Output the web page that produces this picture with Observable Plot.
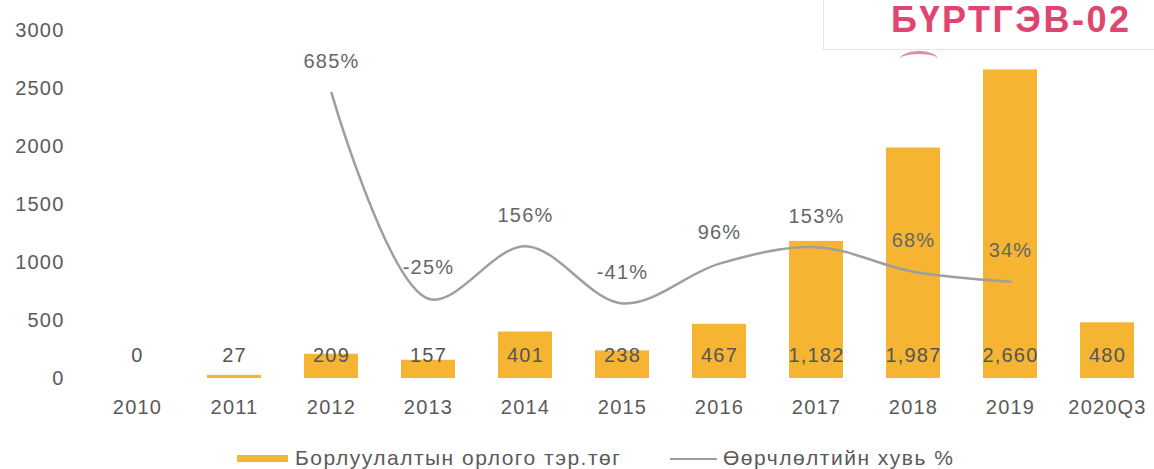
<!DOCTYPE html>
<html>
<head>
<meta charset="utf-8">
<script src="https://cdn.jsdelivr.net/npm/d3@7"></script>
<script src="https://cdn.jsdelivr.net/npm/@observablehq/plot@0.6"></script>
<style>
  body { margin: 0; background: #fff; font-family: "Liberation Sans", Arial, sans-serif; }
  #wrap { position: relative; width: 1154px; height: 469px; overflow: hidden; }
  #stamp { position: absolute; left: 823px; top: -2px; width: 340px; height: 52px; border: 1px solid #e6e6e6; box-sizing: border-box; }
  #stamp span { position: absolute; left: 67px; top: 3px; line-height: 36px; font-weight: bold; font-size: 36px; letter-spacing: 2.5px; color: #e0456f; }
  #arc { position: absolute; left: 900px; top: 51px; width: 38px; height: 14px; border-top: 3px solid #e68aa4; border-radius: 50%; }
  #legend { position: absolute; top: 446px; left: 0; width: 1154px; height: 23px; font-size: 21px; color: #5a5a5a; letter-spacing: 1.5px; }
  .sw1 { position: absolute; left: 237px; top: 9px; width: 51px; height: 7px; background: #f6b433; }
  .lb1 { position: absolute; left: 295px; top: 0px; }
  .sw2 { position: absolute; left: 670px; top: 12px; width: 47px; height: 2px; background: #9c9c9c; }
  .lb2 { position: absolute; left: 723px; top: 0px; }
</style>
</head>
<body>
<div id="wrap">
  <div id="chart"></div>
  <div id="stamp"><span>БҮРТГЭВ-02</span></div>
  <div id="arc"></div>
  <div id="legend">
    <div class="sw1"></div><div class="lb1">Борлуулалтын орлого тэр.төг</div>
    <div class="sw2"></div><div class="lb2">Өөрчлөлтийн хувь %</div>
  </div>
</div>
<script>
const categories = ["2010","2011","2012","2013","2014","2015","2016","2017","2018","2019","2020Q3"];
const sales = [0, 27, 209, 157, 401, 238, 467, 1182, 1987, 2660, 480];
const salesLabels = ["0","27","209","157","401","238","467","1,182","1,987","2,660","480"];
const changeYears = ["2012","2013","2014","2015","2016","2017","2018","2019"];
const changePct = [685, -25, 156, -41, 96, 153, 68, 34];
const yTicks = [0, 500, 1000, 1500, 2000, 2500, 3000];

const barData = categories.map((c, i) => ({cat: c, v: sales[i], label: salesLabels[i]}));
// secondary (hidden) axis for percentages: [-300%, 900%] maps onto the primary [0, 3000]
const pctToPrimary = d3.scaleLinear().domain([-300, 900]).range([0, 3000]);
const lineData = changeYears.map((c, i) => ({cat: c, p: changePct[i], y: pctToPrimary(changePct[i])}));

const chart = Plot.plot({
  width: 1154,
  height: 440,
  marginTop: 30,
  marginBottom: 62,
  marginLeft: 93,
  marginRight: 4,
  style: {fontFamily: "Liberation Sans, Arial, sans-serif", fontSize: "20px", color: "#5a5a5a", background: "transparent", letterSpacing: "1.2px"},
  x: {domain: categories, paddingInner: 0.445, paddingOuter: 0.15, label: null, tickSize: 0, tickPadding: 21},
  y: {domain: [0, 3000], ticks: yTicks, tickFormat: "d", label: null, tickSize: 0, tickPadding: 29},
  marks: [
    Plot.barY(barData, {x: "cat", y: "v", fill: "#f6b433"}),
    Plot.line(lineData, {x: "cat", y: "y", stroke: "#9e9e9e", strokeWidth: 2.5, curve: "catmull-rom"}),
    Plot.text(barData, {x: "cat", y: 0, text: "label", dy: -23, fill: "#555", fontSize: 20}),
    Plot.text(lineData, {x: "cat", y: "y", text: d => d.p + "%", dy: -31, fill: "#666", fontSize: 20})
  ]
});
document.getElementById("chart").appendChild(chart);
</script>
</body>
</html>
